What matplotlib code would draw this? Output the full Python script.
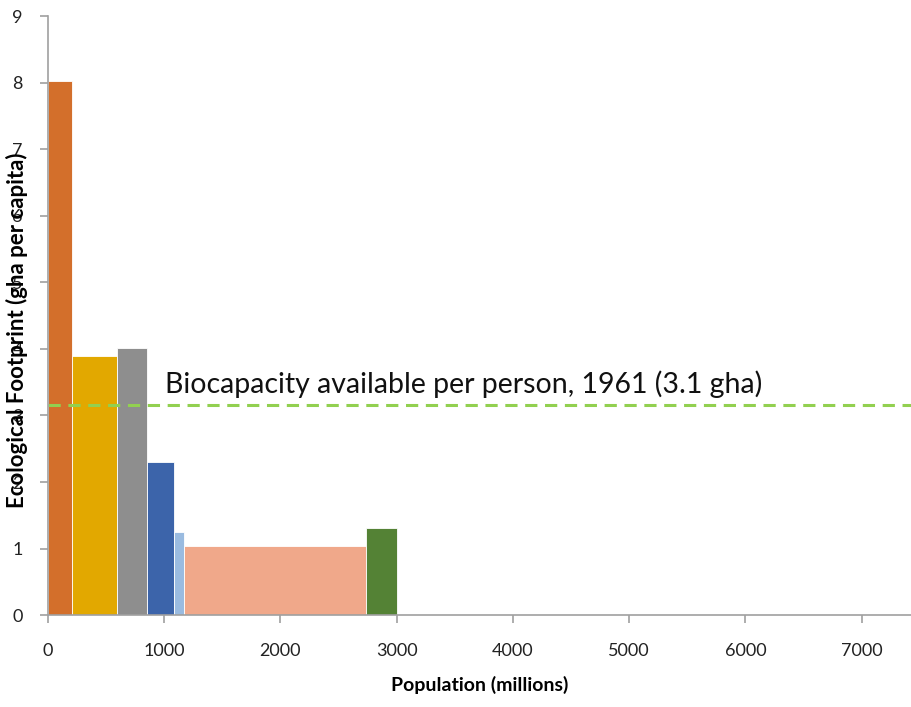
import numpy as np
import matplotlib
matplotlib.use('Agg')
import matplotlib.pyplot as plt

plt.rcParams['font.family'] = ['Lato', 'DejaVu Sans']

# bar edges (population, millions) and footprint (gha per capita)
pop_left = [0, 210, 596, 854, 1081, 1173, 2734]
pop_width = [210, 386, 258, 227, 92, 1561, 270]
footprint = [8.03, 3.89, 4.02, 2.30, 1.25, 1.04, 1.31]
colors = ['#D36F2B', '#E2A800', '#8E8E8E', '#3C64AA', '#9ABBE0', '#F0A88A', '#548235']
biocap = 3.15
biocap_label = 'Biocapacity available per person, 1961 (3.1 gha)'

fig = plt.figure(figsize=(9.12, 7.07), dpi=100)
ax = fig.add_axes([0.0526, 0.130, 0.947, 0.847])

ax.bar(pop_left, footprint, width=pop_width, align='edge', color=colors,
       edgecolor='#ffffff', linewidth=0.6)
ax.axhline(biocap, color='#92D050', ls=(0, (4, 2.5)), lw=2.2)
ax.text(1010, biocap + 0.12, biocap_label, fontsize=20.5, color='#111111',
        ha='left', va='bottom')

ax.set_xlim(0, 7430)
ax.set_ylim(0, 9)
ax.set_xticks(np.arange(0, 8000, 1000))
ax.set_yticks(np.arange(0, 10, 1))
for s in ['top', 'right']:
    ax.spines[s].set_visible(False)
for s in ['left', 'bottom']:
    ax.spines[s].set_color('#A0A0A0')
    ax.spines[s].set_linewidth(1.2)
ax.tick_params(colors='#A0A0A0', labelcolor='#222222', labelsize=13,
               length=6, width=1.2)
ax.tick_params(axis='x', pad=14)
ax.tick_params(axis='y', pad=12)
ax.set_xlabel('Population (millions)', fontsize=14, fontweight='bold',
              labelpad=12)
ax.set_ylabel('Ecological Footprint (gha per capita)', fontsize=16,
              fontweight='bold')
ax.yaxis.set_label_coords(-0.023, 0.476)

fig.savefig('out.png', dpi=100)
